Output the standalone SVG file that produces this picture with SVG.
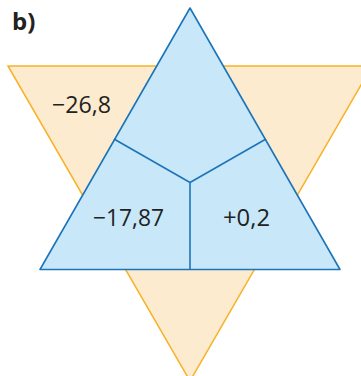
<svg xmlns="http://www.w3.org/2000/svg" width="361" height="376" viewBox="0 0 361 376">
<style>
.orange{fill:#fdebcf;stroke:#f7b228;stroke-width:1.5;stroke-linejoin:round}
.blue{fill:#c8e8f9;stroke:#1c74b9;stroke-width:1.6;stroke-linejoin:round}
.line{stroke:#1c74b9;stroke-width:1.6;fill:none}
.t{font-family:"Open Sans","Liberation Sans",sans-serif;font-size:24px;fill:#222}
.lbl{font-family:"Open Sans","Liberation Sans",sans-serif;font-size:24px;font-weight:bold;fill:#222}
</style>
<rect width="361" height="376" fill="#fff"/>
<g id="orange-triangle"><polygon class="orange" points="8,66 372,66 190,381"/></g>
<g id="blue-triangle"><polygon class="blue" points="190,8 340,269.5 40,269.5"/></g>
<g id="connectors">
<line class="line" x1="190" y1="182.5" x2="114" y2="139"/>
<line class="line" x1="190" y1="182.5" x2="266" y2="139"/>
<line class="line" x1="190" y1="182.5" x2="190" y2="269.5"/>
</g>
<g id="label-b"><text class="lbl" x="12" y="30">b)</text></g>
<g id="val1"><text class="t" x="52" y="113" textLength="59" lengthAdjust="spacingAndGlyphs">−26,8</text></g>
<g id="val2"><text class="t" x="93" y="226" textLength="71" lengthAdjust="spacingAndGlyphs">−17,87</text></g>
<g id="val3"><text class="t" x="223" y="226" textLength="47" lengthAdjust="spacingAndGlyphs">+0,2</text></g>
</svg>
